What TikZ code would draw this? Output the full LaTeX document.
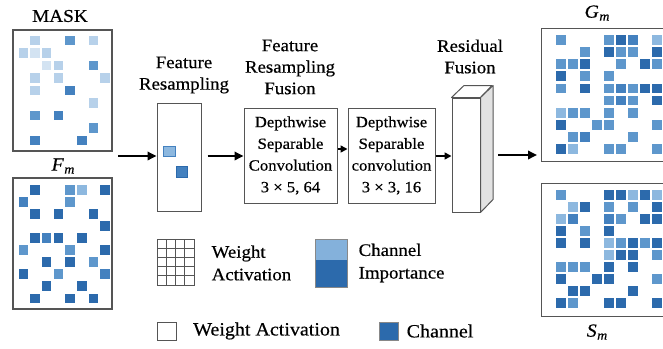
\documentclass[tikz,border=0pt]{standalone}
\usepackage{fontspec}
\setmainfont[FakeStretch=1.07,FakeBold=0.45]{Liberation Serif}
\usetikzlibrary{arrows.meta}

% blue shades for channel cells, lightest to darkest
\definecolor{cvl}{HTML}{D3E3F2}
\definecolor{cl}{HTML}{B7D1EA}
\definecolor{cml}{HTML}{8DB8DF}
\definecolor{cm}{HTML}{5E97CC}
\definecolor{cmd}{HTML}{4481BF}
\definecolor{cd}{HTML}{2C6AAC}
\definecolor{frame}{HTML}{555555}
\definecolor{sideface}{HTML}{E2E2E2}

% #1 x of column 0, #2 column pitch, #3 y of row 0, #4 row pitch, #5 cell size, #6 col/row/colour list
\newcommand\cellgrid[6]{%
  \foreach \c/\r/\s in {#6}
    \fill[fill=\s] ({#1+\c*#2-#5/2},{#3+\r*#4-#5/2}) rectangle ++(#5,#5);}
% italic symbol with italic subscript
\newcommand\symb[2]{\textit{#1}\kern0.5pt\raisebox{-0.35ex}{\fontsize{13}{13}\selectfont\textit{#2}}}

\begin{document}
\begin{tikzpicture}[x=1pt,y=-1pt,
  panel/.style={draw=frame,line width=1.2pt,fill=white},
  blk/.style={draw=frame,line width=1pt,fill=white,align=center,inner sep=0pt,
              font=\fontsize{15.6}{21.7}\selectfont},
  ttl/.style={align=center,inner sep=0pt,font=\fontsize{17.6}{21.5}\selectfont},
  lbl/.style={inner sep=0pt,font=\fontsize{18.5}{20}\selectfont},
  leg/.style={align=left,anchor=west,inner sep=0pt,font=\fontsize{17.6}{22.6}\selectfont},
  arr/.style={line width=1.8pt,-{Triangle[length=9pt,width=8.5pt]}},
  sarr/.style={line width=1.6pt,-{Triangle[length=7pt,width=7pt]}}]

\useasboundingbox (0,0) rectangle (663,348);
\clip (0,0) rectangle (663,348);

% ---- input maps ----
\node[panel,minimum width=99pt,minimum height=121pt,inner sep=0pt] (mask) at (62.5,90.5) {};
\node[font=\fontsize{18}{18}\selectfont,inner sep=0pt] (masklbl) at (60,16) {MASK};
\cellgrid{23.3}{11.7}{40.7}{12.5}{9.5}{1/0/cl,4/0/cm,6/0/cl,0/1/cl,1/1/cvl,2/1/cl,2/2/cvl,3/2/cl,6/2/cm,
  1/3/cl,3/3/cl,7/3/cl,1/4/cl,4/4/cmd,6/5/cl,1/6/cm,3/6/cmd,6/7/cm,1/8/cmd,5/8/cmd}

\node[panel,minimum width=99pt,minimum height=131pt,inner sep=0pt] (fm) at (62.5,243.5) {};
\node[lbl] (fmlbl) at (63,166) {\symb{F}{m}};
\cellgrid{23.3}{11.7}{190}{12.03}{9.5}{1/0/cd,4/0/cm,5/0/cml,7/0/cd,0/1/cmd,4/1/cm,1/2/cd,3/2/cd,6/2/cd,
  7/3/cd,1/4/cd,2/4/cmd,3/4/cd,5/4/cd,0/5/cm,4/5/cm,7/5/cd,2/6/cd,4/6/cd,6/6/cm,
  0/7/cd,3/7/cm,7/7/cmd,2/8/cd,5/8/cd,1/9/cd,4/9/cd,6/9/cd}

% ---- feature resampling ----
\node[ttl] (rstitle) at (184,75) {Feature\\Resampling};
\node[draw=frame,line width=1pt,minimum width=44pt,minimum height=108pt,inner sep=0pt] (rs) at (179,157) {};
\filldraw[fill=cml,draw=cmd,line width=0.5pt] (163.5,146) rectangle (175,156.5);
\filldraw[fill=cmd,draw=cd,line width=0.5pt] (176,166.5) rectangle (187,177.5);
\coordinate (inpt) at (118,156);
\draw[arr] (inpt) -- (rs.west |- inpt);

% ---- resampling fusion ----
\node[ttl] (fftitle) at (290,67) {Feature\\Resampling\\Fusion};
\node[blk,minimum width=93pt,minimum height=95pt] (c1) at (290.5,155.5)
  {Depthwise\\Separable\\Convolution\\3 × 5, 64};
\node[blk,minimum width=87pt,minimum height=95pt] (c2) at (391.5,155.5)
  {Depthwise\\Separable\\convolution\\3 × 3, 16};
\draw[arr] ([xshift=6pt]rs.east |- 0,156) -- (c1.west |- 0,156);
\draw[sarr] (c1.east |- 0,149) -- (c2.west |- 0,149);

% ---- residual fusion ----
\node[ttl] (rftitle) at (470,56.5) {Residual\\Fusion};
\node[draw=frame,line width=1pt,fill=white,minimum width=28pt,minimum height=114pt,inner sep=0pt] (res) at (466,155) {};
\filldraw[draw=frame,line width=1pt,fill=white,line join=round]
  (res.north west) -- ++(12.5,-12) -- ++(28,0) -- (res.north east) -- cycle;
\filldraw[draw=frame,line width=1pt,fill=sideface,line join=round]
  (res.north east) -- ++(12.5,-12) -- ++(0,114) -- (res.south east) -- cycle;
\draw[sarr] (c2.east |- 0,156) -- (res.west |- 0,156);

% ---- output maps ----
\node[panel,minimum width=160pt,minimum height=133pt,inner sep=0pt,anchor=north west] (gm) at (541,28) {};
\node[lbl] (gmlbl) at (597,13) {\symb{G}{m}};
\cellgrid{561.3}{12}{40}{12.1}{9.8}{0/0/cm,4/0/cm,5/0/cd,6/0/cmd,8/0/cml,2/1/cm,4/1/cd,5/1/cm,6/1/cm,8/1/cd,
  0/2/cm,1/2/cm,2/2/cd,5/2/cm,7/2/cd,8/2/cm,0/3/cd,2/3/cm,4/3/cm,
  0/4/cm,2/4/cd,4/4/cm,5/4/cmd,6/4/cm,7/4/cd,8/4/cd,4/5/cm,5/5/cmd,6/5/cm,8/5/cd,
  0/6/cml,1/6/cm,2/6/cm,4/6/cm,6/6/cm,0/7/cd,3/7/cm,4/7/cm,8/7/cm,
  1/8/cm,2/8/cmd,6/8/cm,0/9/cd,1/9/cml,4/9/cm,5/9/cm,8/9/cm}

\node[panel,minimum width=160pt,minimum height=133pt,inner sep=0pt,anchor=north west] (sm) at (541,183) {};
\node[lbl] (smlbl) at (597,332) {\symb{S}{m}};
\cellgrid{561.3}{12}{195}{11.97}{9.8}{0/0/cm,4/0/cd,5/0/cd,6/0/cml,7/0/cd,8/0/cml,1/1/cml,2/1/cd,4/1/cm,6/1/cm,8/1/cd,
  0/2/cml,1/2/cmd,4/2/cmd,5/2/cm,7/2/cd,8/2/cd,0/3/cd,2/3/cm,4/3/cd,
  0/4/cd,2/4/cd,4/4/cml,5/4/cm,6/4/cd,7/4/cm,8/4/cd,4/5/cml,5/5/cd,6/5/cd,8/5/cm,
  0/6/cm,1/6/cm,2/6/cm,4/6/cd,6/6/cd,0/7/cd,3/7/cd,4/7/cd,8/7/cm,
  1/8/cd,2/8/cd,6/8/cd,0/9/cd,1/9/cm,4/9/cd,5/9/cd,8/9/cd}

\coordinate (resout) at (498,155);
\draw[arr] (resout) -- ([xshift=-4pt]gm.west |- resout);

% ---- legend ----
\node[draw=frame,line width=0.8pt,minimum width=36.6pt,minimum height=46pt,inner sep=0pt,anchor=north west] (gridicon) at (157,239) {};
\foreach \i in {1,2,3}
  \draw[frame,line width=0.8pt] ({157+\i*9.15},239) -- ++(0,46);
\foreach \j in {1,2,3,4}
  \draw[frame,line width=0.8pt] (157,{239+\j*9.2}) -- ++(36.6,0);
\node[leg] (wa1) at (211.5,263) {Weight\\Activation};

\fill[fill=cml!80!cm] (315,239) rectangle (347,260);
\fill[fill=cd] (315,260) rectangle (347,287);
\node[draw=frame!70,line width=0.6pt,minimum width=32pt,minimum height=48pt,inner sep=0pt,anchor=north west] (ciicon) at (315,239) {};
\node[leg] (ci) at (358.5,263) {Channel\\Importance};

\node[draw=frame,line width=0.8pt,minimum width=19pt,minimum height=18pt,inner sep=0pt] (waicon) at (166.5,331) {};
\node[leg,font=\fontsize{18.7}{20}\selectfont] (wa2) at (193,331) {Weight Activation};
\node[draw=frame!70,fill=cd,line width=0.6pt,minimum width=19pt,minimum height=18pt,inner sep=0pt] (chicon) at (389,331) {};
\node[leg,font=\fontsize{18.7}{20}\selectfont] (ch) at (406.5,331) {Channel};
\end{tikzpicture}
\end{document}
